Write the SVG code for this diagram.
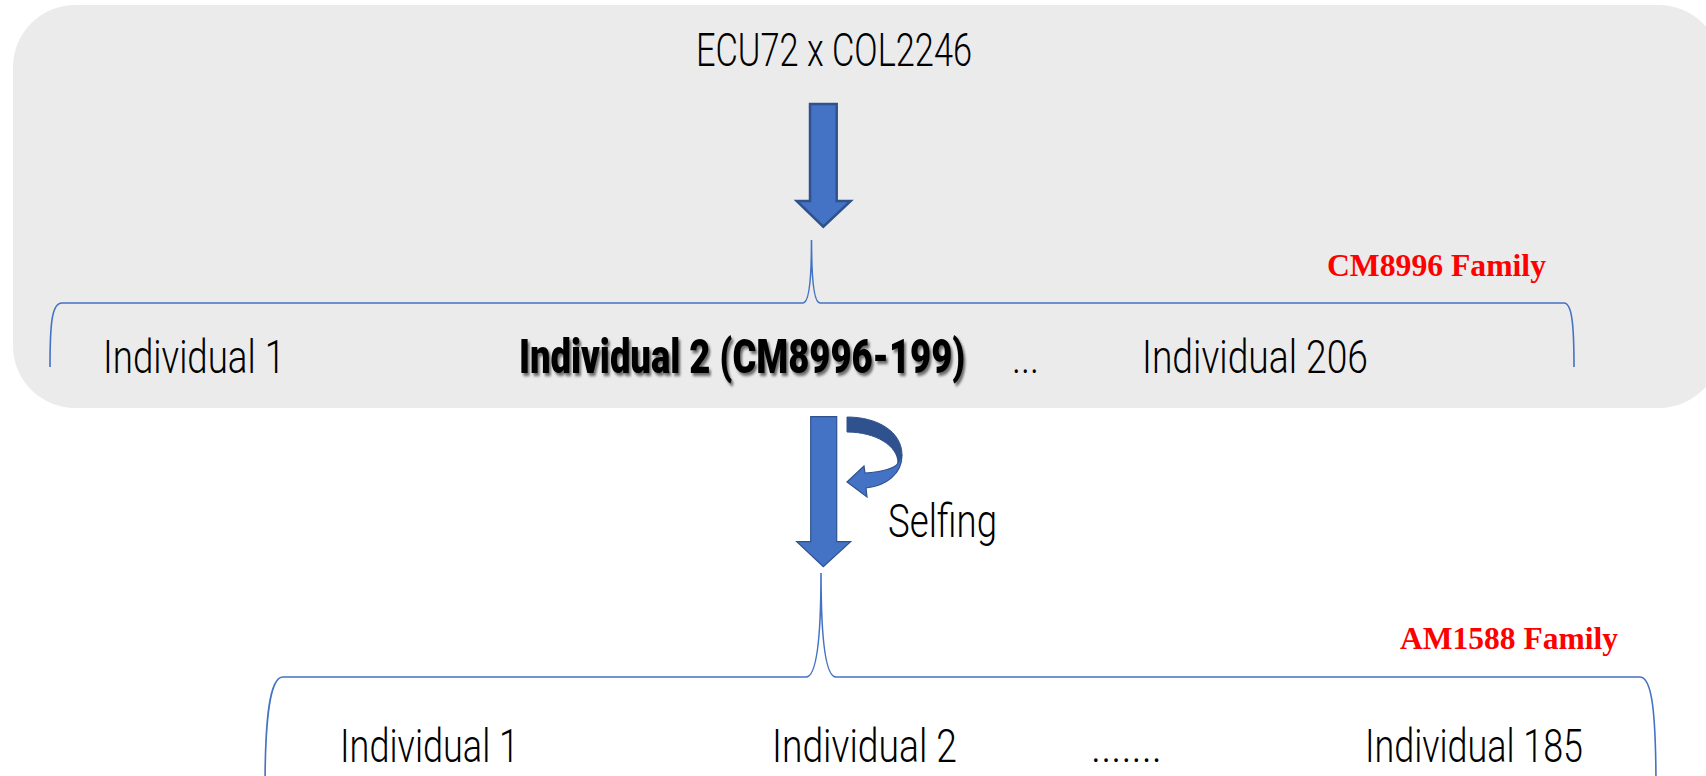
<svg xmlns="http://www.w3.org/2000/svg" width="1706" height="776" viewBox="0 0 1706 776">
  <defs>
    <style>
      .cond { font-family: Roboto, "Liberation Sans", sans-serif; font-weight: 300; font-size: 46px; fill: #000; }
      .heavy { font-family: Roboto, "Liberation Sans", sans-serif; font-weight: 900; font-size: 48px; fill: #000; }
      .fam { font-family: "Liberation Serif", "Times New Roman", serif; font-weight: bold; font-size: 31px; fill: #FF0000; }
      .brace { fill: none; stroke: #4472C4; stroke-width: 1.6; }
      .arrow { fill: #4472C4; stroke: #2F528F; stroke-width: 2.5; stroke-linejoin: miter; }
      .arrow2 { fill: #4472C4; stroke: #2F528F; stroke-width: 1.2; }
    </style>
    <filter id="shadow" x="-5%" y="-20%" width="110%" height="150%">
      <feDropShadow dx="3" dy="3" stdDeviation="1.8" flood-color="#000" flood-opacity="0.55"/>
    </filter>
  </defs>

  <rect width="1706" height="776" fill="#FFFFFF"/>

  <g id="panel">
    <rect x="13" y="5" width="1708" height="403" rx="62" ry="62" fill="#EBEBEB"/>
  </g>

  <g id="title">
    <text class="cond" x="696" y="66" textLength="276" lengthAdjust="spacingAndGlyphs">ECU72 x COL2246</text>
  </g>

  <g id="connectors">
    <path id="arrow-cross" class="arrow" d="M810,104 L836.7,104 L836.7,201 L850.7,201 L823.3,226.7 L796.7,201 L810,201 Z"/>
    <path id="brace-cm" class="brace" d="M50,367 C50,322 52,303 62,303 L803,303 C809,303 811.5,282 811.5,240 C811.5,282 814,303 820,303 L1564,303 C1572,303 1574,325 1574,367"/>
    <path id="arrow-self" class="arrow2" d="M810.7,416.7 L836.7,416.7 L836.7,541.7 L850.7,541.7 L823.3,566.7 L796.7,541.7 L810.7,541.7 Z"/>
    <g id="selfing-loop">
      <path d="M847,417 C878,417 902,432 902,455 L898,463 C898,446 876,432 847,432 Z" fill="#2F528F" stroke="#2F528F" stroke-width="1"/>
      <path d="M902,455 C902,474 886,486 866,488 L867,497 L847,482 L864,466 L865,473 C882,472 896,468 898,463 Z" class="arrow2"/>
    </g>
    <path id="brace-am" class="brace" d="M265,790 C265,715 270,677 283,677 L806,677 C816,677 821,642 821,573 C821,642 826,677 836,677 L1640,677 C1652,677 1656,712 1656,790"/>
  </g>

  <g id="cm8996-family">
    <text class="fam" x="1327" y="276" textLength="219" lengthAdjust="spacingAndGlyphs">CM8996 Family</text>
    <g id="cm-ind1"><text class="cond" x="103" y="373" textLength="182" lengthAdjust="spacingAndGlyphs">Individual 1</text></g>
    <g id="cm-ind2"><text class="heavy" transform="translate(519,373) scale(0.66,1)" x="0" y="0" textLength="676" lengthAdjust="spacingAndGlyphs" filter="url(#shadow)">Individual 2 (CM8996-199)</text></g>
    <g id="cm-dots"><text class="cond" x="1012" y="373" textLength="27" lengthAdjust="spacingAndGlyphs">...</text></g>
    <g id="cm-ind206"><text class="cond" x="1142" y="373" textLength="226" lengthAdjust="spacingAndGlyphs">Individual 206</text></g>
  </g>

  <g id="selfing-label">
    <text class="cond" x="888" y="537" textLength="109" lengthAdjust="spacingAndGlyphs">Selfing</text>
  </g>

  <g id="am1588-family">
    <text class="fam" x="1400" y="649" textLength="218" lengthAdjust="spacingAndGlyphs">AM1588 Family</text>
    <g id="am-ind1"><text class="cond" x="340" y="762" textLength="179" lengthAdjust="spacingAndGlyphs">Individual 1</text></g>
    <g id="am-ind2"><text class="cond" x="772" y="762" textLength="185" lengthAdjust="spacingAndGlyphs">Individual 2</text></g>
    <g id="am-dots"><text class="cond" x="1091" y="762" textLength="71" lengthAdjust="spacingAndGlyphs">.......</text></g>
    <g id="am-ind185"><text class="cond" x="1365" y="762" textLength="218" lengthAdjust="spacingAndGlyphs">Individual 185</text></g>
  </g>
</svg>
